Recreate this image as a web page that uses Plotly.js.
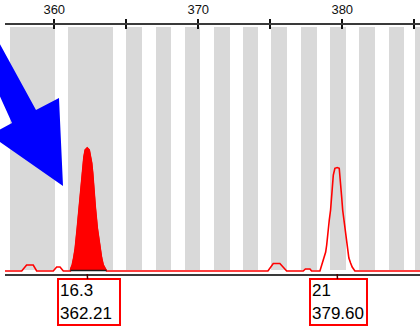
<!DOCTYPE html>
<html>
<head>
<meta charset="utf-8">
<script src="https://cdn.plot.ly/plotly-3.0.1.min.js"></script>
<style>html,body{margin:0;padding:0;background:#fff;}#chart{width:420px;height:327px;}</style>
</head>
<body>
<div id="chart"></div>
<script>
// Allele bin bands (size units)
var binStart = [356.92, 360.95, 364.98, 367.06, 369.07, 371.09, 373.10, 375.05, 377.13, 379.15, 381.16, 383.24, 385.05];
var binEnd   = [360.05, 364.08, 366.09, 368.10, 370.15, 372.20, 374.15, 376.16, 378.24, 380.26, 382.27, 384.28, 386.00];

// Trace (electropherogram) - size vs. signal
var traceX = [356.58, 357.74, 358.08, 358.54, 358.78, 359.93, 360.17, 360.40, 360.63,
  361.12, 361.16, 361.25, 361.35, 361.46, 361.60, 361.74, 361.90, 361.94, 362.01, 362.06, 362.15, 362.29,
  362.43, 362.53, 362.60, 362.67, 362.71, 362.85, 362.99, 363.17, 363.29, 363.40, 363.59, 363.63,
  374.84, 375.01, 375.21, 375.67, 375.92, 376.14,
  377.29, 377.44, 377.76, 377.87,
  378.45, 378.54, 378.64, 378.75, 378.85, 378.92, 378.99, 379.10, 379.19, 379.26, 379.33, 379.38, 379.49, 379.65,
  379.79, 379.84, 379.91, 379.96, 380.03, 380.12, 380.21, 380.31, 380.37, 380.46, 380.58, 380.69, 380.88,
  385.40];
var traceY = [0, 0, 6, 6, 0, 0, 4, 4, 0,
  0, 3, 6, 13, 23, 43, 64, 88, 98, 108, 114, 121, 123,
  121, 114, 108, 98, 88, 64, 43, 23, 13, 6, 2, 0,
  0, 4, 7.5, 7.5, 4, 0,
  0, 2, 2, 0,
  0, 4, 8, 13, 19, 26, 38, 51, 61, 74, 86, 96, 102.7, 103.5,
  102.7, 96, 86, 74, 61, 51, 38, 26, 19, 13, 8, 4, 0,
  0];

// Called (filled) peak
var peakX = [361.12, 361.16, 361.25, 361.35, 361.46, 361.60, 361.74, 361.90, 361.94, 362.01, 362.06, 362.15, 362.29,
  362.43, 362.53, 362.60, 362.67, 362.71, 362.85, 362.99, 363.17, 363.29, 363.40, 363.59, 363.63];
var peakY = [0, 3, 6, 13, 23, 43, 64, 88, 98, 108, 114, 121, 123,
  121, 114, 108, 98, 88, 64, 43, 23, 13, 6, 2, 0];

// Allele call labels
var labelNames = ["16.3", "21"];
var labelSizes = ["362.21", "379.60"];
var labelPos   = [362.29, 379.65];

// Axis ticks
var tickVals  = [360, 365, 370, 375, 380, 385];
var tickTexts = ["360", "", "370", "", "380", ""];

var xRange = [356.58, 385.40];
var yRange = [-3, 246];

var binCenter = binStart.map(function (s, i) { return (s + binEnd[i]) / 2; });
var binWidth  = binStart.map(function (s, i) { return binEnd[i] - s; });
var binTop    = binStart.map(function () { return 243; });

var data = [
  {type: 'bar', x: binCenter, y: binTop, base: 1, width: binWidth, xaxis: 'x',
   marker: {color: '#d9d9d9', line: {width: 0}}, hoverinfo: 'skip'},
  {type: 'scatter', mode: 'lines', x: traceX, y: traceY, xaxis: 'x2',
   line: {color: '#ff0000', width: 1.6}, hoverinfo: 'skip'},
  {type: 'scatter', mode: 'lines', x: peakX, y: peakY, fill: 'tozeroy', xaxis: 'x2',
   fillcolor: '#ff0000', line: {color: '#ff0000', width: 1.2}, hoverinfo: 'skip'}
];

// Arrow polygon in pixel coordinates of the page (converted to paper)
var L = 5, T = 25, W = 415, H = 249;
function px(x) { return ((x - L) / W).toFixed(4); }
function py(y) { return ((T + H - y) / H).toFixed(4); }
var arrowPts = [[-40, -29], [36, 110], [59, 98], [63, 186], [-10, 135], [12, 123], [-40, 8.7]];
var arrowPath = arrowPts.map(function (p, i) { return (i ? 'L' : 'M') + px(p[0]) + ',' + py(p[1]); }).join(' ') + ' Z';

var boxWidths = [58, 53];
var boxShift = [2, 1.5];
var annotations = labelNames.map(function (n, i) {
  return {
    x: labelPos[i], xref: 'x', y: 0, yref: 'paper',
    text: n + '<br>' + labelSizes[i],
    showarrow: true, ax: boxShift[i], ay: 28, arrowhead: 0, arrowwidth: 1.5, arrowcolor: '#500000',
    bordercolor: '#ff0000', borderwidth: 2, borderpad: 1, bgcolor: '#ffffff',
    align: 'left', width: boxWidths[i], height: 42,
    font: {family: 'Liberation Sans, Arial, sans-serif', size: 17, color: '#000'}
  };
});

var layout = {
  width: 420, height: 327,
  margin: {l: L, r: 0, t: T, b: 327 - T - H, pad: 0},
  paper_bgcolor: '#ffffff', plot_bgcolor: '#ffffff',
  showlegend: false,
  bargap: 0,
  xaxis: {range: xRange, side: 'top', showgrid: false, zeroline: false,
    showline: true, linecolor: '#3a3a3a', linewidth: 2, mirror: true,
    tickmode: 'array', tickvals: tickVals, ticktext: tickTexts,
    ticks: 'outside', ticklen: 4, tickwidth: 2, tickcolor: '#111',
    tickfont: {family: 'Liberation Sans, Arial, sans-serif', size: 13, color: '#111'}},
  xaxis2: {range: xRange, overlaying: 'x', side: 'top', anchor: 'y', showgrid: false, zeroline: false,
    showline: false, tickmode: 'array', tickvals: tickVals, ticks: 'inside', ticklen: 4, tickwidth: 2,
    tickcolor: '#111', showticklabels: false},
  yaxis: {range: yRange, visible: false, showgrid: false, zeroline: false, fixedrange: true},
  shapes: [
    {type: 'line', xref: 'x', yref: 'y', x0: peakX[0], x1: peakX[peakX.length - 1], y0: 0.4, y1: 0.4,
     line: {color: '#1a1a1a', width: 1.5}, layer: 'above'},
    {type: 'path', xref: 'paper', yref: 'paper', path: arrowPath,
     fillcolor: '#0000ff', line: {width: 0}, layer: 'above'}
  ],
  annotations: annotations
};

Plotly.newPlot('chart', data, layout, {staticPlot: true, displayModeBar: false});
</script>
</body>
</html>
